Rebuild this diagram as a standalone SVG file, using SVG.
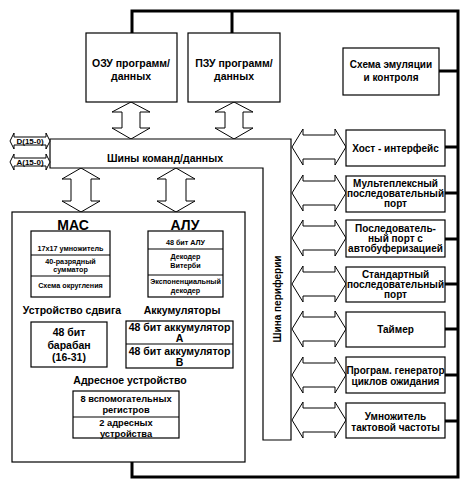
<svg xmlns="http://www.w3.org/2000/svg" width="467" height="486" viewBox="0 0 467 486">
<style>
.b{fill:#fff;stroke:#000;stroke-width:1.2}
.ar{fill:#fff;stroke:#000;stroke-width:1}
.th{fill:none;stroke:#000;stroke-width:3}
text{font-family:"Liberation Sans",Arial,sans-serif;font-weight:bold;fill:#000;text-anchor:middle}
.t9{font-size:9.3px}
.t10{font-size:10px}
.t11{font-size:10.5px}
.t7{font-size:7.2px}
.t8{font-size:8px}
.t14{font-size:14px}
</style>
<rect width="467" height="486" fill="#fff"/>
<g id="connectors">
<polyline class="th" points="132,33 132,11 458,11 458,477 132,477 132,462"/>
<line class="th" x1="232" y1="11" x2="232" y2="33"/>
<line class="th" x1="439" y1="71" x2="458" y2="71"/>
<line class="th" x1="445" y1="147" x2="458" y2="147"/>
<line class="th" x1="445" y1="193" x2="458" y2="193"/>
<line class="th" x1="445" y1="239" x2="458" y2="239"/>
<line class="th" x1="445" y1="284" x2="458" y2="284"/>
<line class="th" x1="445" y1="329" x2="458" y2="329"/>
<line class="th" x1="445" y1="375" x2="458" y2="375"/>
<line class="th" x1="445" y1="421" x2="458" y2="421"/>
<path class="ar" d="M131,102 L150,112 L140,112 L140,128 L150,128 L131,139 L112,128 L122,128 L122,112 L112,112 Z"/>
<path class="ar" d="M234,102 L253,112 L243,112 L243,128 L253,128 L234,139 L215,128 L225,128 L225,112 L215,112 Z"/>
<path class="ar" d="M81,168 L100,179 L91,179 L91,201 L100,201 L81,212 L62,201 L71,201 L71,179 L62,179 Z"/>
<path class="ar" d="M176,168 L195,179 L186,179 L186,201 L195,201 L176,212 L157,201 L166,201 L166,179 L157,179 Z"/>
<path class="ar" d="M292,147 L303,129 L303,135 L335,135 L335,129 L346,147 L335,165 L335,159 L303,159 L303,165 Z"/>
<path class="ar" d="M292,193 L303,175 L303,181 L335,181 L335,175 L346,193 L335,211 L335,205 L303,205 L303,211 Z"/>
<path class="ar" d="M292,238 L303,220 L303,226 L335,226 L335,220 L346,238 L335,256 L335,250 L303,250 L303,256 Z"/>
<path class="ar" d="M292,284 L303,266 L303,272 L335,272 L335,266 L346,284 L335,302 L335,296 L303,296 L303,302 Z"/>
<path class="ar" d="M292,329 L303,311 L303,317 L335,317 L335,311 L346,329 L335,347 L335,341 L303,341 L303,347 Z"/>
<path class="ar" d="M292,375 L303,357 L303,363 L335,363 L335,357 L346,375 L335,393 L335,387 L303,387 L303,393 Z"/>
<path class="ar" d="M292,420 L303,402 L303,408 L335,408 L335,402 L346,420 L335,438 L335,432 L303,432 L303,438 Z"/>
</g>
<g id="bus">
<polygon class="b" points="50,139 291,139 291,440 263,440 263,168 50,168"/>
<text class="t11" x="165" y="162">Шины команд/данных</text>
<text class="t10" transform="translate(281,299) rotate(-90)">Шина периферии</text>
</g>
<g id="D">
<path class="ar" d="M10,141 L14,133 L14,137 L46,137 L46,133 L50,141 L46,149 L46,145 L14,145 L14,149 Z"/>
<text class="t8" x="30" y="144">D(15-0)</text>
</g>
<g id="A">
<path class="ar" d="M10,162 L14,154 L14,158 L46,158 L46,154 L50,162 L46,170 L46,166 L14,166 L14,170 Z"/>
<text class="t8" x="30" y="165">A(15-0)</text>
</g>
<g id="ozu">
<rect class="b" x="86" y="33" width="91" height="69"/>
<text class="t11" x="131" y="67">ОЗУ  программ/</text>
<text class="t11" x="131" y="80">данных</text>
</g>
<g id="pzu">
<rect class="b" x="188" y="33" width="92" height="69"/>
<text class="t11" x="234" y="67">ПЗУ  программ/</text>
<text class="t11" x="234" y="80">данных</text>
</g>
<g id="emul">
<rect class="b" x="343" y="48" width="96" height="47"/>
<text class="t10" x="391" y="68">Схема эмуляции</text>
<text class="t10" x="391" y="81">и контроля</text>
</g>
<g id="host">
<rect class="b" x="346" y="130" width="99" height="36"/>
<text class="t10" x="395.5" y="152">Хост - интерфейс</text>
</g>
<g id="mux">
<rect class="b" x="346" y="176" width="99" height="36"/>
<text class="t10" x="395.5" y="187">Мультеплексный</text>
<text class="t10" x="395.5" y="197">последовательный</text>
<text class="t10" x="395.5" y="207">порт</text>
</g>
<g id="autobuf">
<rect class="b" x="346" y="220" width="99" height="37"/>
<text class="t10" x="395.5" y="232">Последователь-</text>
<text class="t10" x="395.5" y="242">ный порт с</text>
<text class="t10" x="395.5" y="252">автобуферизацией</text>
</g>
<g id="std">
<rect class="b" x="346" y="267" width="99" height="35"/>
<text class="t10" x="395.5" y="278">Стандартный</text>
<text class="t10" x="395.5" y="288">последовательный</text>
<text class="t10" x="395.5" y="298">порт</text>
</g>
<g id="timer">
<rect class="b" x="346" y="312" width="99" height="35"/>
<text class="t10" x="395.5" y="333">Таймер</text>
</g>
<g id="wait">
<rect class="b" x="346" y="357" width="99" height="36"/>
<text class="t10" x="395.5" y="374">Програм. генератор</text>
<text class="t10" x="395.5" y="385">циклов ожидания</text>
</g>
<g id="clock">
<rect class="b" x="346" y="403" width="99" height="35"/>
<text class="t10" x="395.5" y="420">Умножитель</text>
<text class="t10" x="395.5" y="431">тактовой частоты</text>
</g>
<g id="core">
<rect class="b" x="12" y="212" width="233" height="250"/>
<text class="t14" x="73" y="230">МАС</text>
<text class="t14" x="185" y="230">АЛУ</text>
<text class="t11" x="72" y="314">Устройство сдвига</text>
<text class="t11" x="182" y="314">Аккумуляторы</text>
<text class="t11" x="130" y="384">Адресное устройство</text>
</g>
<g id="mac">
<rect class="b" x="31" y="231" width="79" height="66"/>
<line class="b" x1="31" y1="255" x2="110" y2="255"/>
<line class="b" x1="31" y1="276" x2="110" y2="276"/>
<text class="t7" x="70.5" y="251">17x17 умножитель</text>
<text class="t7" x="70.5" y="264">40-разрядный</text>
<text class="t7" x="70.5" y="272">сумматор</text>
<text class="t7" x="70.5" y="288">Схема округления</text>
</g>
<g id="alu">
<rect class="b" x="148" y="231" width="75" height="66"/>
<line class="b" x1="148" y1="249" x2="223" y2="249"/>
<line class="b" x1="148" y1="275" x2="223" y2="275"/>
<text class="t7" x="185.5" y="245">48 бит АЛУ</text>
<text class="t7" x="185.5" y="259">Декодер</text>
<text class="t7" x="185.5" y="268">Витерби</text>
<text class="t7" x="185.5" y="284">Экспоненциальный</text>
<text class="t7" x="185.5" y="293">декодер</text>
</g>
<g id="shifter">
<rect class="b" x="31" y="322" width="76" height="45"/>
<text class="t11" x="69" y="336">48 бит</text>
<text class="t11" x="69" y="349">барабан</text>
<text class="t11" x="69" y="361">(16-31)</text>
</g>
<g id="acc">
<rect class="b" x="126" y="321" width="107" height="47"/>
<line class="b" x1="126" y1="344" x2="233" y2="344"/>
<text class="t11" x="179.5" y="331">48 бит аккумулятор</text>
<text class="t11" x="179.5" y="342">А</text>
<text class="t11" x="179.5" y="355">48 бит аккумулятор</text>
<text class="t11" x="179.5" y="366">В</text>
</g>
<g id="addr">
<rect class="b" x="73" y="391" width="106" height="47"/>
<line class="b" x1="73" y1="417" x2="179" y2="417"/>
<text class="t9" x="126" y="402">8 вспомогательных</text>
<text class="t9" x="126" y="412.5">регистров</text>
<text class="t9" x="126" y="426">2 адресных</text>
<text class="t9" x="126" y="436.5">устройства</text>
</g>
</svg>
